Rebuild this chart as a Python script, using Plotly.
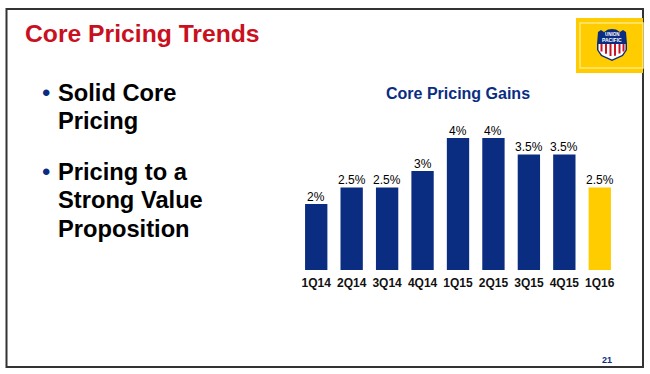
import plotly.graph_objects as go

categories = ["1Q14", "2Q14", "3Q14", "4Q14", "1Q15", "2Q15", "3Q15", "4Q15", "1Q16"]
gains = [2, 2.5, 2.5, 3, 4, 4, 3.5, 3.5, 2.5]
labels = ["2%", "2.5%", "2.5%", "3%", "4%", "4%", "3.5%", "3.5%", "2.5%"]
bar_colors = ["#0A2D82"] * 8 + ["#FFCC00"]

W, H = 650, 374
FONT = "Liberation Sans, Arial, sans-serif"
NAVY = "#0A2D82"


def px(x):
    return x / W


def py(y):
    return 1 - y / H


fig = go.Figure(
    go.Bar(
        x=categories,
        y=gains,
        width=0.63,
        marker=dict(color=bar_colors, line=dict(width=0)),
        hoverinfo="skip",
    )
)


def rect(x0, y0, x1, y1, **kw):
    return dict(type="rect", xref="paper", yref="paper", x0=px(x0), x1=px(x1), y0=py(y0), y1=py(y1), **kw)


def path(points):
    return "M " + " L ".join(f"{px(x):.5f},{py(y):.5f}" for x, y in points) + " Z"


def poly(points, color):
    return dict(type="path", xref="paper", yref="paper", path=path(points), fillcolor=color, line=dict(width=0))


shield = [(598, 32), (601, 30), (604, 32), (608, 29.5), (612, 29), (616, 29.5), (620, 32), (623, 30),
          (626, 32), (627, 44), (627, 50), (623, 56), (612, 61), (601, 56), (597, 50), (597, 44)]
white_band = [(598.5, 44), (625.5, 44), (625.5, 50), (622, 55), (612, 59.5), (602, 55), (598.5, 50)]

shapes = [
    rect(6.5, 9, 643, 367, line=dict(color="#333333", width=2), fillcolor="rgba(0,0,0,0)"),
    rect(576, 18, 643, 73, fillcolor="#FFCC00", line=dict(width=0)),
    rect(580, 23, 643, 68, fillcolor="rgba(0,0,0,0)", line=dict(color="#FFE680", width=1.5)),
    poly(shield, NAVY),
    poly(white_band, "#FFFFFF"),
]
for x in (601, 605.5, 610, 614.5, 619, 623):
    bottom = 57 - abs(x - 612) * 0.5
    shapes.append(rect(x - 0.5, 44, x + 1.5, bottom, fillcolor="#CC1122", line=dict(width=0)))


def note(x, y, text, size, color, anchor="left", bold=True):
    body = f"<b>{text}</b>" if bold else text
    return dict(xref="paper", yref="paper", x=px(x), y=py(y), text=body, showarrow=False,
                xanchor=anchor, yanchor="middle", borderpad=0, borderwidth=0,
                font=dict(family=FONT, size=size, color=color), align="left")


annotations = [
    note(25, 33, "Core Pricing Trends", 24.7, "#C8101E"),
    note(42, 92, "•", 24, NAVY, bold=False),
    note(58, 93, "Solid Core", 23.7, "#000000"),
    note(58, 121, "Pricing", 23.7, "#000000"),
    note(42, 171, "•", 24, NAVY, bold=False),
    note(58, 172, "Pricing to a", 23.7, "#000000"),
    note(58, 200, "Strong Value", 23.7, "#000000"),
    note(58, 229, "Proposition", 23.7, "#000000"),
    note(457.5, 93.5, "Core Pricing Gains", 16, NAVY, anchor="center"),
    note(607, 360, "21", 9, NAVY, anchor="center"),
    note(612, 34.5, "UNION", 4.5, "#FFFFFF", anchor="center"),
    note(612, 40, "PACIFIC", 5, "#FFFFFF", anchor="center"),
]

for c, v, t in zip(categories, gains, labels):
    annotations.append(dict(x=c, y=v, xref="x", yref="y", text=t, showarrow=False, yanchor="middle",
                            yshift=7.5, borderpad=0, font=dict(family=FONT, size=12, color="#000000")))

fig.update_layout(
    width=W,
    height=H,
    margin=dict(l=0, r=0, t=0, b=0),
    paper_bgcolor="#FFFFFF",
    plot_bgcolor="#FFFFFF",
    showlegend=False,
    shapes=shapes,
    annotations=annotations,
    xaxis=dict(
        domain=[px(298.5), px(617.5)],
        range=[-0.5, 8.5],
        type="category",
        tickmode="array",
        tickvals=categories,
        ticktext=[f"<b>{c}</b>" for c in categories],
        tickfont=dict(family=FONT, size=12, color="#111111"),
        ticks="",
        ticklen=0,
        ticklabelstandoff=4,
        showline=False,
        showgrid=False,
        zeroline=False,
    ),
    yaxis=dict(
        domain=[py(270), py(121.5)],
        range=[0, 4.5],
        visible=False,
        showgrid=False,
        zeroline=False,
    ),
)

fig.write_html(
    "out.html",
    config=dict(displayModeBar=False),
    post_script="document.body.style.margin='0';document.documentElement.style.overflow='hidden';",
)
